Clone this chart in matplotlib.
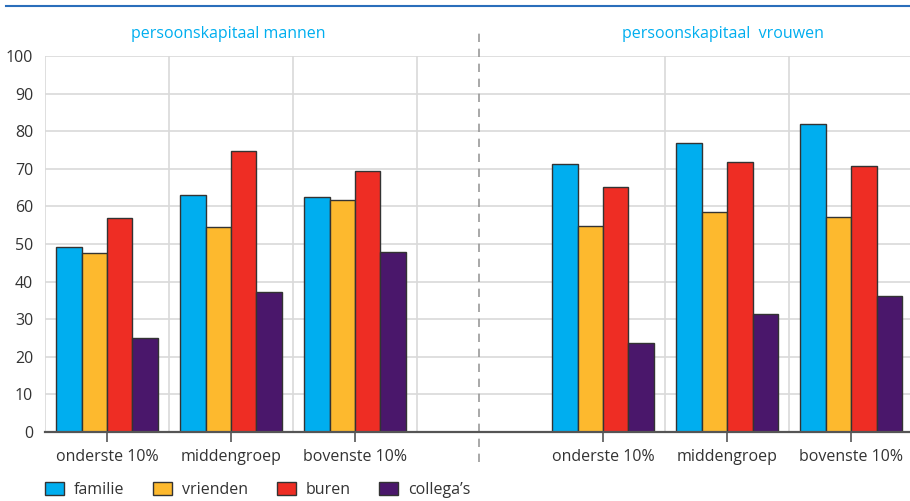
import matplotlib
matplotlib.use('Agg')
import matplotlib.pyplot as plt
from matplotlib.lines import Line2D
from matplotlib.patches import Patch
from matplotlib.transforms import blended_transform_factory

# data
groups = ['onderste 10%', 'middengroep', 'bovenste 10%']
series = ['familie', 'vrienden', 'buren', "collega’s"]
mannen_familie = [49.2, 63.1, 62.4]
mannen_vrienden = [47.5, 54.6, 61.7]
mannen_buren = [56.8, 74.7, 69.5]
mannen_collegas = [25.0, 37.2, 47.8]
vrouwen_familie = [71.3, 76.8, 81.8]
vrouwen_vrienden = [54.9, 58.6, 57.3]
vrouwen_buren = [65.1, 71.7, 70.7]
vrouwen_collegas = [23.6, 31.3, 36.3]
titles = ['persoonskapitaal mannen', 'persoonskapitaal  vrouwen']
yticks = list(range(0, 101, 10))

colors = ['#00aeef', '#fdb92e', '#ee2d24', '#4a176b']
text_col = '#333333'
grid_col = '#d9d9d9'
fs = 11.5

plt.rcParams['font.family'] = ['Open Sans', 'DejaVu Sans']

fig = plt.figure(figsize=(9.10, 5.01), dpi=100)
ax = fig.add_axes([45 / 910, 1 - 432 / 501, 1 - 45 / 910, 376 / 501])

# slot positions: 3 groups, empty slot, 3 groups
pos_m = [0, 1, 2]
pos_v = [4, 5, 6]
w = 0.205
offsets = [-1.5 * w, -0.5 * w, 0.5 * w, 1.5 * w]
mannen = [mannen_familie, mannen_vrienden, mannen_buren, mannen_collegas]
vrouwen = [vrouwen_familie, vrouwen_vrienden, vrouwen_buren, vrouwen_collegas]

for i in range(4):
    ax.bar([p + offsets[i] for p in pos_m], mannen[i], width=w, color=colors[i],
           edgecolor='#333333', linewidth=1.0, zorder=3)
    ax.bar([p + offsets[i] for p in pos_v], vrouwen[i], width=w, color=colors[i],
           edgecolor='#333333', linewidth=1.0, zorder=3)

ax.set_xlim(-0.5, 6.475)
ax.set_ylim(0, 100)
ax.set_yticks(yticks)
ax.set_yticklabels([str(t) for t in yticks], fontsize=fs, color=text_col)
ax.set_xticks(pos_m + pos_v)
ax.set_xticklabels(groups + groups, fontsize=fs, color=text_col)
ax.tick_params(axis='y', length=0, pad=8.5)
ax.tick_params(axis='x', length=7, width=1.2, color='#555555', pad=5)

# grid: horizontal at ticks, vertical at slot boundaries
for t in yticks[1:]:
    ax.axhline(t, color=grid_col, lw=1.2, zorder=1)
for b in [-0.5, 0.5, 1.5, 2.5, 4.5, 5.5]:
    ax.axvline(b, color=grid_col, lw=1.2, zorder=1)

for s in ['top', 'right', 'left']:
    ax.spines[s].set_visible(False)
ax.spines['bottom'].set_color('#555555')
ax.spines['bottom'].set_linewidth(1.6)
ax.spines['bottom'].set_zorder(4)

# dashed separator in the empty slot
trans = blended_transform_factory(ax.transData, ax.transAxes)
ax.add_line(Line2D([3, 3], [(432 - 462) / 376, (432 - 30) / 376], transform=trans,
                   color='#999999', lw=1.2, linestyle=(0, (5, 4)), clip_on=False))

# panel titles
ax.text(0.98, (432 - 34) / 376, titles[0], transform=trans, ha='center', va='center',
        color='#00aeef', fontsize=fs)
ax.text(4.97, (432 - 34) / 376, titles[1], transform=trans, ha='center', va='center',
        color='#00aeef', fontsize=fs)

# top rule
fig.add_artist(Line2D([6 / 910, 1], [1 - 6 / 501, 1 - 6 / 501], color='#2a6ebb', lw=1.5))

handles = [Patch(facecolor=c, edgecolor='#333333', linewidth=1.0) for c in colors]
fig.legend(handles, series, loc='center left', bbox_to_anchor=(45 / 910, 1 - 490 / 501),
           ncol=4, frameon=False, fontsize=fs, handlelength=1.2, handleheight=0.85,
           handletextpad=0.6, columnspacing=1.8, borderpad=0, borderaxespad=0,
           labelcolor=text_col)

fig.savefig('out.png', dpi=100)
